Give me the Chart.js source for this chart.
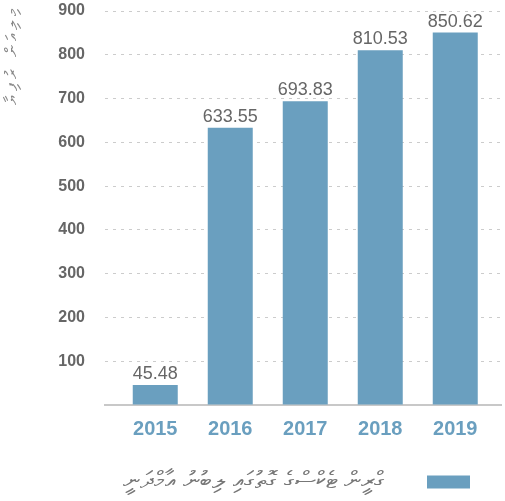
<!DOCTYPE html>
<html>
<head>
<meta charset="utf-8">
<script src="https://cdn.jsdelivr.net/npm/chart.js@4/dist/chart.umd.min.js"></script>
<style>
  html, body { margin: 0; padding: 0; background: #fff; }
  #wrap { width: 505px; height: 501px; }
</style>
</head>
<body>
<div id="wrap"><canvas id="grafico"></canvas></div>
<script>
const anios = [2015, 2016, 2017, 2018, 2019];
const valores = [45.48, 633.55, 693.83, 810.53, 850.62];
const ticksY = [100, 200, 300, 400, 500, 600, 700, 800, 900];
const tituloY = "މިލިއަން ރުފިޔާ";
const leyenda = "ގްރީން ޓެކްސްގެ ގޮތުގައި ލިބުނު އާމްދަނީ    ";

const azul = "#6a9fbf";
const gris = "#666666";
const narrow = '"Liberation Sans Narrow", sans-serif';
const thaana = '"DejaVu Sans", "Noto Sans", sans-serif';

// etiquetas encima de cada barra + titulo vertical del eje Y
const etiquetas = {
  id: "etiquetas",
  afterDatasetsDraw(chart) {
    const ctx = chart.ctx;
    const meta = chart.getDatasetMeta(0);
    ctx.save();
    ctx.font = "18px " + narrow;
    ctx.fillStyle = gris;
    ctx.textAlign = "center";
    ctx.textBaseline = "alphabetic";
    meta.data.forEach((bar, i) => {
      ctx.fillText(valores[i].toFixed(2), bar.x, bar.y - 6);
    });
    ctx.restore();
  },
  afterDraw(chart) {
    const ctx = chart.ctx;
    ctx.save();
    ctx.translate(13, 5);
    ctx.rotate(-Math.PI / 2);
    ctx.font = "17px " + thaana;
    ctx.fillStyle = "#888888";
    ctx.textAlign = "right";
    ctx.textBaseline = "middle";
    ctx.letterSpacing = "4px";
    ctx.fillText(tituloY, 0, 0);
    ctx.restore();
  },
};

new Chart(document.getElementById("grafico"), {
  type: "bar",
  data: {
    datasets: [
      {
        label: leyenda,
        data: anios.map((a, i) => ({ x: a, y: valores[i] })),
        backgroundColor: azul,
        borderWidth: 0,
        barPercentage: 0.6,
        categoryPercentage: 1,
      },
    ],
  },
  options: {
    responsive: true,
    maintainAspectRatio: false,
    animation: false,
    layout: { padding: { top: 11, right: 4, bottom: -3, left: 0 } },
    plugins: {
      legend: {
        display: true,
        position: "bottom",
        align: "start",
        rtl: true,
        labels: {
          boxWidth: 43,
          boxHeight: 13,
          padding: 31,
          color: "#777777",
          font: { size: 24, family: thaana },
        },
      },
      tooltip: { enabled: false },
    },
    scales: {
      x: {
        type: "linear",
        offset: false,
        min: 2014.33,
        max: 2019.61,
        afterBuildTicks: (s) => {
          s.ticks = anios.map((v) => ({ value: v }));
        },
        afterFit: (s) => {
          s.height = 34;
        },
        grid: { display: false },
        border: { display: true, color: "#c8c8c8", width: 2 },
        ticks: {
          padding: 4,
          color: azul,
          font: { size: 20, weight: "bold", family: narrow },
          callback: (v) => String(v),
        },
      },
      y: {
        min: 0,
        max: 900,
        afterBuildTicks: (s) => {
          s.ticks = [0].concat(ticksY).map((v) => ({ value: v }));
        },
        afterFit: (s) => {
          s.width = 105;
        },
        grid: {
          color: "#cccccc",
          lineWidth: 1,
          drawTicks: true,
          tickLength: 20,
          tickColor: "rgba(0,0,0,0)",
        },
        border: { display: false, dash: [3, 5] },
        ticks: {
          padding: 0,
          color: gris,
          font: { size: 16, weight: "bold", family: narrow },
          callback: (v) => (v === 0 ? "" : v),
        },
      },
    },
  },
  plugins: [etiquetas],
});
</script>
</body>
</html>
